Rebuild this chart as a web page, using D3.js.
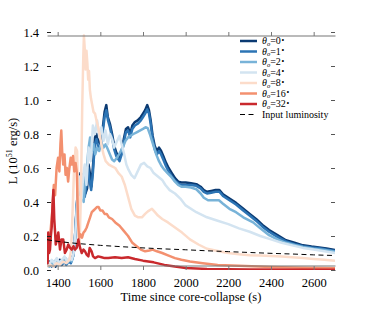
<!DOCTYPE html>
<html><head><meta charset="utf-8">
<script src="https://cdn.jsdelivr.net/npm/d3@7"></script>
<style>body{margin:0;background:#fff}</style>
</head><body>
<svg id="c" width="372" height="310"></svg>
<script>
const xTicks = [1400,1600,1800,2000,2200,2400,2600];
const yTicks = [0.0,0.2,0.4,0.6,0.8,1.0,1.2,1.4];
const seriesLabels = ["0","1","2","4","8","16","32"];
const seriesColors = ["#0b3a72","#2c74b4","#78b3d8","#d3e4f1","#fcdcca","#f3906f","#c9292d"];

const theta0 = [[1350,0.03],[1360,0.05],[1370,0.03],[1380,0.04],[1390,0.02],[1400,0.04],[1410,0.06],[1420,0.03],[1430,0.05],[1440,0.04],[1450,0.06],[1460,0.05],[1470,0.07],[1478,0.12],[1485,0.28],[1492,0.42],[1500,0.52],[1507,0.57],[1515,0.52],[1522,0.55],[1530,0.45],[1538,0.48],[1545,0.62],[1552,0.56],[1558,0.49],[1565,0.6],[1575,0.78],[1582,0.8],[1590,0.76],[1600,0.74],[1610,0.82],[1620,0.93],[1628,0.97],[1635,0.9],[1645,0.86],[1655,0.8],[1665,0.73],[1675,0.69],[1690,0.66],[1700,0.7],[1710,0.77],[1720,0.83],[1730,0.84],[1740,0.8],[1750,0.85],[1762,0.87],[1775,0.88],[1790,0.9],[1800,0.92],[1810,0.94],[1820,0.97],[1828,0.94],[1836,0.88],[1845,0.79],[1855,0.73],[1865,0.7],[1875,0.72],[1885,0.7],[1895,0.67],[1908,0.63],[1920,0.6],[1935,0.57],[1950,0.54],[1965,0.52],[1980,0.515],[2000,0.515],[2025,0.51],[2050,0.505],[2070,0.49],[2085,0.47],[2100,0.46],[2120,0.465],[2140,0.47],[2158,0.47],[2175,0.445],[2200,0.425],[2236,0.395],[2270,0.36],[2300,0.33],[2330,0.3],[2360,0.265],[2391,0.235],[2430,0.205],[2470,0.175],[2510,0.16],[2550,0.145],[2590,0.138],[2625,0.133],[2660,0.126],[2700,0.118]];
const theta1 = [[1350,0.02],[1362,0.04],[1372,0.02],[1384,0.05],[1395,0.03],[1405,0.05],[1415,0.03],[1428,0.06],[1440,0.03],[1452,0.05],[1462,0.04],[1472,0.08],[1480,0.16],[1487,0.33],[1495,0.47],[1503,0.55],[1510,0.5],[1518,0.56],[1527,0.43],[1535,0.5],[1543,0.6],[1550,0.52],[1557,0.47],[1565,0.57],[1574,0.74],[1582,0.77],[1590,0.72],[1600,0.72],[1610,0.8],[1620,0.9],[1628,0.94],[1636,0.88],[1645,0.84],[1655,0.78],[1665,0.71],[1675,0.67],[1690,0.64],[1700,0.68],[1710,0.75],[1720,0.81],[1730,0.82],[1740,0.78],[1750,0.83],[1762,0.85],[1775,0.86],[1790,0.88],[1800,0.9],[1810,0.92],[1820,0.945],[1828,0.92],[1836,0.86],[1845,0.77],[1855,0.71],[1865,0.68],[1875,0.7],[1885,0.68],[1895,0.65],[1908,0.61],[1920,0.58],[1935,0.55],[1950,0.525],[1965,0.51],[1980,0.5],[2000,0.5],[2025,0.5],[2050,0.495],[2070,0.48],[2085,0.46],[2100,0.45],[2120,0.455],[2140,0.46],[2158,0.46],[2175,0.435],[2200,0.415],[2236,0.385],[2270,0.35],[2300,0.32],[2330,0.29],[2360,0.255],[2391,0.225],[2430,0.195],[2470,0.168],[2510,0.152],[2550,0.14],[2590,0.133],[2625,0.128],[2660,0.12],[2700,0.112]];
const theta2 = [[1350,0.04],[1360,0.02],[1370,0.05],[1382,0.03],[1392,0.06],[1402,0.03],[1412,0.05],[1424,0.04],[1436,0.07],[1446,0.04],[1456,0.06],[1466,0.05],[1474,0.09],[1482,0.2],[1490,0.38],[1498,0.5],[1506,0.44],[1514,0.52],[1522,0.4],[1530,0.55],[1538,0.62],[1545,0.72],[1552,0.78],[1560,0.7],[1568,0.74],[1576,0.68],[1585,0.72],[1595,0.7],[1605,0.75],[1615,0.72],[1625,0.74],[1635,0.71],[1645,0.68],[1655,0.65],[1665,0.64],[1678,0.66],[1692,0.69],[1705,0.72],[1718,0.76],[1730,0.78],[1742,0.79],[1755,0.8],[1770,0.81],[1785,0.82],[1800,0.83],[1812,0.84],[1822,0.835],[1832,0.8],[1842,0.76],[1852,0.72],[1862,0.68],[1875,0.64],[1888,0.61],[1900,0.59],[1915,0.57],[1931,0.55],[1950,0.52],[1965,0.5],[1980,0.49],[2000,0.49],[2025,0.485],[2050,0.475],[2070,0.45],[2085,0.425],[2105,0.41],[2130,0.41],[2156,0.41],[2175,0.39],[2205,0.36],[2236,0.34],[2270,0.31],[2316,0.28],[2350,0.245],[2391,0.205],[2430,0.18],[2470,0.16],[2510,0.147],[2550,0.135],[2600,0.125],[2650,0.117],[2700,0.108]];
const theta4 = [[1350,0.05],[1360,0.03],[1372,0.06],[1384,0.04],[1396,0.07],[1408,0.04],[1420,0.06],[1432,0.08],[1444,0.05],[1456,0.07],[1466,0.06],[1475,0.1],[1483,0.22],[1490,0.36],[1498,0.48],[1505,0.55],[1512,0.42],[1520,0.56],[1527,0.62],[1535,0.5],[1545,0.72],[1555,0.64],[1565,0.85],[1575,0.8],[1585,0.88],[1595,0.78],[1605,0.84],[1615,0.76],[1625,0.82],[1635,0.74],[1645,0.8],[1655,0.77],[1665,0.72],[1675,0.75],[1690,0.79],[1700,0.74],[1712,0.68],[1722,0.62],[1732,0.59],[1745,0.56],[1760,0.54],[1775,0.58],[1790,0.62],[1805,0.63],[1820,0.61],[1835,0.6],[1850,0.57],[1870,0.55],[1890,0.53],[1905,0.5],[1925,0.47],[1950,0.45],[1975,0.42],[2000,0.38],[2050,0.34],[2100,0.31],[2150,0.29],[2200,0.27],[2250,0.245],[2300,0.225],[2350,0.2],[2400,0.18],[2450,0.16],[2500,0.145],[2550,0.13],[2600,0.12],[2650,0.11],[2700,0.1]];
const theta8 = [[1350,0.02],[1365,0.03],[1380,0.02],[1395,0.04],[1410,0.03],[1425,0.05],[1440,0.04],[1455,0.06],[1463,0.12],[1470,0.35],[1477,0.6],[1484,0.72],[1491,0.7],[1497,0.4],[1503,0.15],[1509,0.45],[1515,0.95],[1520,1.25],[1523,1.38],[1527,1.3],[1531,1.18],[1535,1.29],[1539,1.22],[1543,1.12],[1547,1.17],[1551,1.06],[1556,1.01],[1562,0.97],[1568,0.93],[1575,0.92],[1582,0.88],[1590,0.84],[1598,0.79],[1606,0.73],[1615,0.68],[1625,0.64],[1640,0.62],[1655,0.61],[1670,0.6],[1685,0.57],[1700,0.55],[1715,0.5],[1730,0.43],[1745,0.36],[1762,0.32],[1778,0.31],[1795,0.31],[1810,0.33],[1823,0.345],[1842,0.36],[1856,0.34],[1870,0.32],[1890,0.3],[1917,0.28],[1950,0.25],[1983,0.22],[2020,0.18],[2060,0.15],[2100,0.125],[2156,0.11],[2200,0.1],[2250,0.092],[2300,0.087],[2350,0.085],[2400,0.083],[2450,0.08],[2500,0.075],[2550,0.07],[2600,0.065],[2650,0.06],[2700,0.055]];
const theta16 = [[1350,0.08],[1360,0.14],[1368,0.25],[1375,0.35],[1382,0.5],[1388,0.44],[1395,0.6],[1402,0.66],[1408,0.58],[1413,0.74],[1417,0.82],[1421,0.7],[1426,0.62],[1432,0.68],[1437,0.56],[1443,0.6],[1449,0.52],[1455,0.6],[1461,0.66],[1466,0.62],[1472,0.67],[1478,0.58],[1484,0.63],[1490,0.57],[1495,0.3],[1500,0.19],[1507,0.21],[1514,0.19],[1521,0.22],[1528,0.23],[1536,0.25],[1544,0.28],[1552,0.31],[1560,0.34],[1568,0.35],[1576,0.36],[1584,0.37],[1592,0.37],[1600,0.35],[1610,0.35],[1620,0.33],[1630,0.33],[1640,0.31],[1655,0.3],[1670,0.28],[1690,0.26],[1710,0.23],[1730,0.2],[1750,0.16],[1770,0.14],[1790,0.12],[1810,0.11],[1830,0.115],[1845,0.12],[1865,0.11],[1890,0.1],[1920,0.085],[1950,0.07],[1980,0.06],[2020,0.05],[2080,0.04],[2150,0.03],[2250,0.025],[2400,0.018],[2550,0.013],[2700,0.01]];
const theta32 = [[1350,0.2],[1353,0.04],[1356,0.22],[1360,0.1],[1364,0.12],[1368,0.2],[1372,0.25],[1376,0.38],[1380,0.47],[1384,0.3],[1388,0.22],[1391,0.15],[1397,0.18],[1403,0.22],[1411,0.12],[1418,0.18],[1426,0.18],[1434,0.1],[1442,0.12],[1450,0.15],[1458,0.13],[1466,0.12],[1474,0.14],[1481,0.12],[1489,0.13],[1497,0.18],[1505,0.13],[1513,0.1],[1521,0.12],[1528,0.11],[1536,0.09],[1544,0.08],[1550,0.13],[1559,0.11],[1566,0.08],[1575,0.07],[1590,0.08],[1606,0.075],[1620,0.07],[1637,0.07],[1669,0.075],[1700,0.07],[1730,0.075],[1762,0.065],[1800,0.055],[1850,0.045],[1900,0.03],[1950,0.02],[2000,0.012],[2100,0.006],[2300,0.003],[2700,0.002]];
const inputLum = [[1350,0.178],[1400,0.168],[1500,0.155],[1600,0.145],[1700,0.137],[1800,0.13],[1900,0.124],[2000,0.119],[2100,0.113],[2200,0.108],[2300,0.103],[2400,0.098],[2500,0.094],[2600,0.089],[2700,0.085]];

const series = [theta0,theta1,theta2,theta4,theta8,theta16,theta32];

const svg = d3.select("#c");
const m = {l:47, r:335, t:32, b:270};
const x = d3.scaleLinear().domain([1350,2700]).range([m.l,m.r]);
const y = d3.scaleLinear().domain([0,1.4]).range([m.b,m.t]);
const font = "'Liberation Serif','Times New Roman',serif";

svg.append("defs").append("clipPath").attr("id","clip")
  .append("rect").attr("x",m.l).attr("y",m.t).attr("width",m.r-m.l).attr("height",m.b-m.t);

const line = d3.line().x(d=>x(d[0])).y(d=>y(d[1]));
const g = svg.append("g").attr("clip-path","url(#clip)");
series.forEach((s,i)=>{
  g.append("path").datum(s).attr("d",line).attr("fill","none")
    .attr("stroke",seriesColors[i]).attr("stroke-width",2.5).attr("stroke-linejoin","round");
});
g.append("path").datum(inputLum).attr("d",line).attr("fill","none")
  .attr("stroke","#000").attr("stroke-width",1).attr("stroke-dasharray","5,3.5");

// axes
const axB = d3.axisBottom(x).tickValues(xTicks).tickSize(-4).tickPadding(8).tickFormat(d3.format("d"));
const axT = d3.axisTop(x).tickValues(xTicks).tickSize(-4).tickFormat("");
const axL = d3.axisLeft(y).tickValues(yTicks).tickSize(-4).tickPadding(8).tickFormat(d3.format(".1f"));
const axR = d3.axisRight(y).tickValues(yTicks).tickSize(-4).tickFormat("");
function style(sel,col){
  sel.select(".domain").attr("stroke",col).attr("stroke-width",1.2);
  sel.selectAll(".tick line").attr("stroke",col);
  sel.selectAll("text").attr("font-family",font).attr("font-size",12.5).attr("fill","#000");
}
style(svg.append("g").attr("transform",`translate(0,${m.b})`).call(axB),"#777");
style(svg.append("g").attr("transform",`translate(0,${m.t})`).call(axT),"#777");
style(svg.append("g").attr("transform",`translate(${m.l},0)`).call(axL),"#222");
style(svg.append("g").attr("transform",`translate(${m.r},0)`).call(axR),"#555");
svg.selectAll(".domain").each(function(){ d3.select(this).attr("d", d3.select(this).attr("d").replace(/V-?\d+(\.\d+)?H/,"H")); });

// labels
svg.append("text").attr("x",(m.l+m.r)/2).attr("y",301).attr("text-anchor","middle")
  .attr("font-family",font).attr("font-size",12.5).text("Time since core-collapse (s)");
const yl = svg.append("text").attr("transform",`translate(17,${(m.t+m.b)/2}) rotate(-90)`)
  .attr("text-anchor","middle").attr("font-family",font).attr("font-size",12.5);
yl.append("tspan").text("L (10");
yl.append("tspan").attr("font-size",8).attr("dy",-5).text("51");
yl.append("tspan").attr("dy",5).text(" erg/s)");

// legend
const lg = svg.append("g").attr("font-family",font).attr("font-size",10);
const ly0 = 41, ldy = 10.5;
seriesLabels.forEach((lab,i)=>{
  const yy = ly0 + i*ldy;
  lg.append("line").attr("x1",240).attr("x2",257).attr("y1",yy).attr("y2",yy)
    .attr("stroke",seriesColors[i]).attr("stroke-width",2.5);
  const t = lg.append("text").attr("x",262).attr("y",yy+3.3);
  t.append("tspan").attr("font-style","italic").text("θ");
  t.append("tspan").attr("font-style","italic").attr("font-size",6.5).attr("dy",1.3).text("o");
  t.append("tspan").attr("dy",-1.3).text("=" + lab);
  t.append("tspan").attr("font-size",6).attr("dy",-3.5).text("∘");
});
const yy = ly0 + 7*ldy;
lg.append("line").attr("x1",240).attr("x2",257).attr("y1",yy).attr("y2",yy)
  .attr("stroke","#000").attr("stroke-width",1).attr("stroke-dasharray","5,3.5");
lg.append("text").attr("x",262).attr("y",yy+3.3).text("Input luminosity");
</script>
</body></html>
